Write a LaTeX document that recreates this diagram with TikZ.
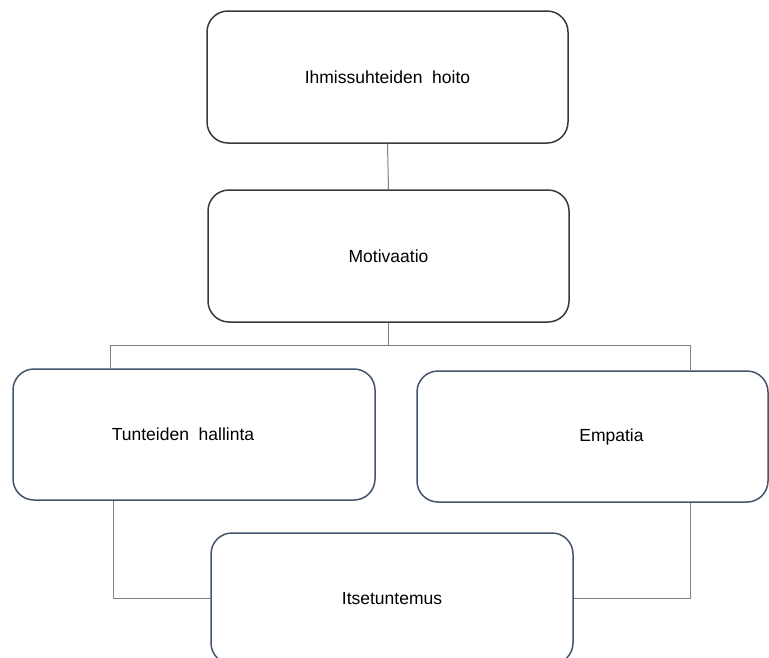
\documentclass[tikz,border=0pt]{standalone}
\usepackage{fontspec}
\setmainfont{Liberation Sans}
\usetikzlibrary{positioning,calc}
\definecolor{boxgray}{HTML}{3A3A3A}
\definecolor{boxslate}{HTML}{44546A}
\definecolor{linkgray}{HTML}{808080}
\tikzset{
  box/.style={rectangle,rounded corners=21pt,draw=boxgray,line width=1.5pt,fill=white,
              minimum width=361pt,minimum height=132pt,inner sep=0,
              font=\fontsize{17.5}{20}\selectfont},
  % the lower three boxes have a bluish border
  boxb/.style={box,draw=boxslate,minimum height=131pt},
  link/.style={draw=linkgray,line width=1pt},
}

\begin{document}
\begin{tikzpicture}[x=1pt,y=-1pt]
  \useasboundingbox (0,0) rectangle (769,657);
  \clip (0,0) rectangle (769,657);
  % boxes
  \node[box] (hoito) at (387.5,77) {Ihmissuhteiden\ \ hoito};
  \node[box] (motiv) at (388.5,256) {Motivaatio};
  \node[boxb,minimum width=362pt] (tunne) at (194,434.5) {};
  \node at ([xshift=-11pt]tunne.center) {\fontsize{17.5}{20}\selectfont Tunteiden\ \ hallinta};
  \node[boxb,minimum width=351pt] (empat) at (592.5,436.5) {};
  \node at ([xshift=19pt]empat.center) {\fontsize{17.5}{20}\selectfont Empatia};
  \node[boxb,minimum width=362pt] (itse) at (392,598.5) {Itsetuntemus};
  % connectors
  \coordinate (tl) at (110,345);
  \coordinate (tr) at (690,345);
  \coordinate (bl) at (113,598);
  \draw[link] (hoito.south) -- (motiv.north);
  \draw[link] (motiv.south) -- (motiv.south |- tl);
  \draw[link] (tunne.north -| tl) -- (tl) -- (tr) -- (empat.north -| tr);
  \draw[link] (tunne.south -| bl) |- (itse.west);
  \draw[link] (empat.south -| tr) |- (itse.east);
\end{tikzpicture}
\end{document}
